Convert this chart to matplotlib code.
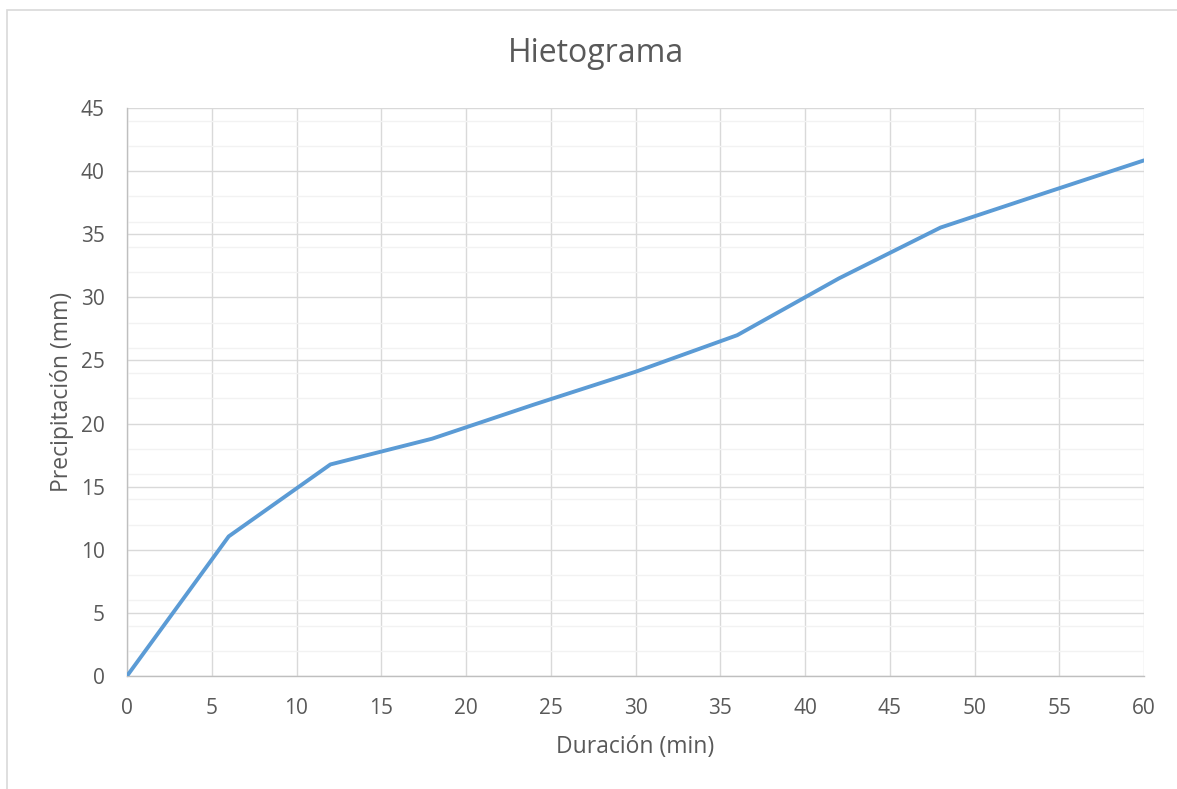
import matplotlib
matplotlib.use("Agg")
import matplotlib.pyplot as plt
from matplotlib.patches import Rectangle
from matplotlib.ticker import MultipleLocator

# Duración (min) vs precipitación acumulada (mm)
duracion = [0, 6, 12, 18, 24, 30, 36, 42, 48, 54, 60]
precipitacion = [0, 11.06, 16.76, 18.8, 21.5, 24.1, 27.0, 31.5, 35.53, 38.2, 40.85]

x_ticks = list(range(0, 61, 5))
y_ticks = list(range(0, 46, 5))

TXT = "#595959"
plt.rcParams["font.family"] = ["Open Sans", "DejaVu Sans"]

W, H = 1177, 789
fig = plt.figure(figsize=(W / 100, H / 100), dpi=100)
ax = fig.add_axes([127 / W, 1 - 676 / H, (1144 - 127) / W, (676 - 108) / H])

ax.plot(duracion, precipitacion, color="#5B9BD5", lw=2.8, solid_capstyle="round",
        solid_joinstyle="round", zorder=3)

ax.set_xlim(0, 60)
ax.set_ylim(0, 45)
ax.set_xticks(x_ticks)
ax.set_yticks(y_ticks)
ax.yaxis.set_minor_locator(MultipleLocator(2))
ax.grid(which="major", color="#D9D9D9", lw=1.0, zorder=1)
ax.grid(which="minor", axis="y", color="#F2F2F2", lw=1.0, zorder=0)
ax.tick_params(which="both", length=0, labelsize=15, labelcolor=TXT)
ax.tick_params(axis="x", pad=15.5)
ax.tick_params(axis="y", pad=16)
for side in ("top", "right"):
    ax.spines[side].set_visible(False)
for side in ("left", "bottom"):
    ax.spines[side].set_color("#BFBFBF")
    ax.spines[side].set_linewidth(1.0)

ax.set_xlabel("Duración (min)", fontsize=16.5, color=TXT, labelpad=12)
ax.set_ylabel("Precipitación (mm)", fontsize=16.5, color=TXT, labelpad=5)
fig.text(596 / W, 1 - 54 / H, "Hietograma", ha="center", va="center",
         fontsize=23, color=TXT)

# chart area border
fig.patches.append(Rectangle((6.5 / W, -0.05), 1.1, 1 - 9.5 / H + 0.05,
                             transform=fig.transFigure, fill=False,
                             edgecolor="#D9D9D9", lw=1.2))

fig.savefig("out.png", dpi=100, facecolor="white")
